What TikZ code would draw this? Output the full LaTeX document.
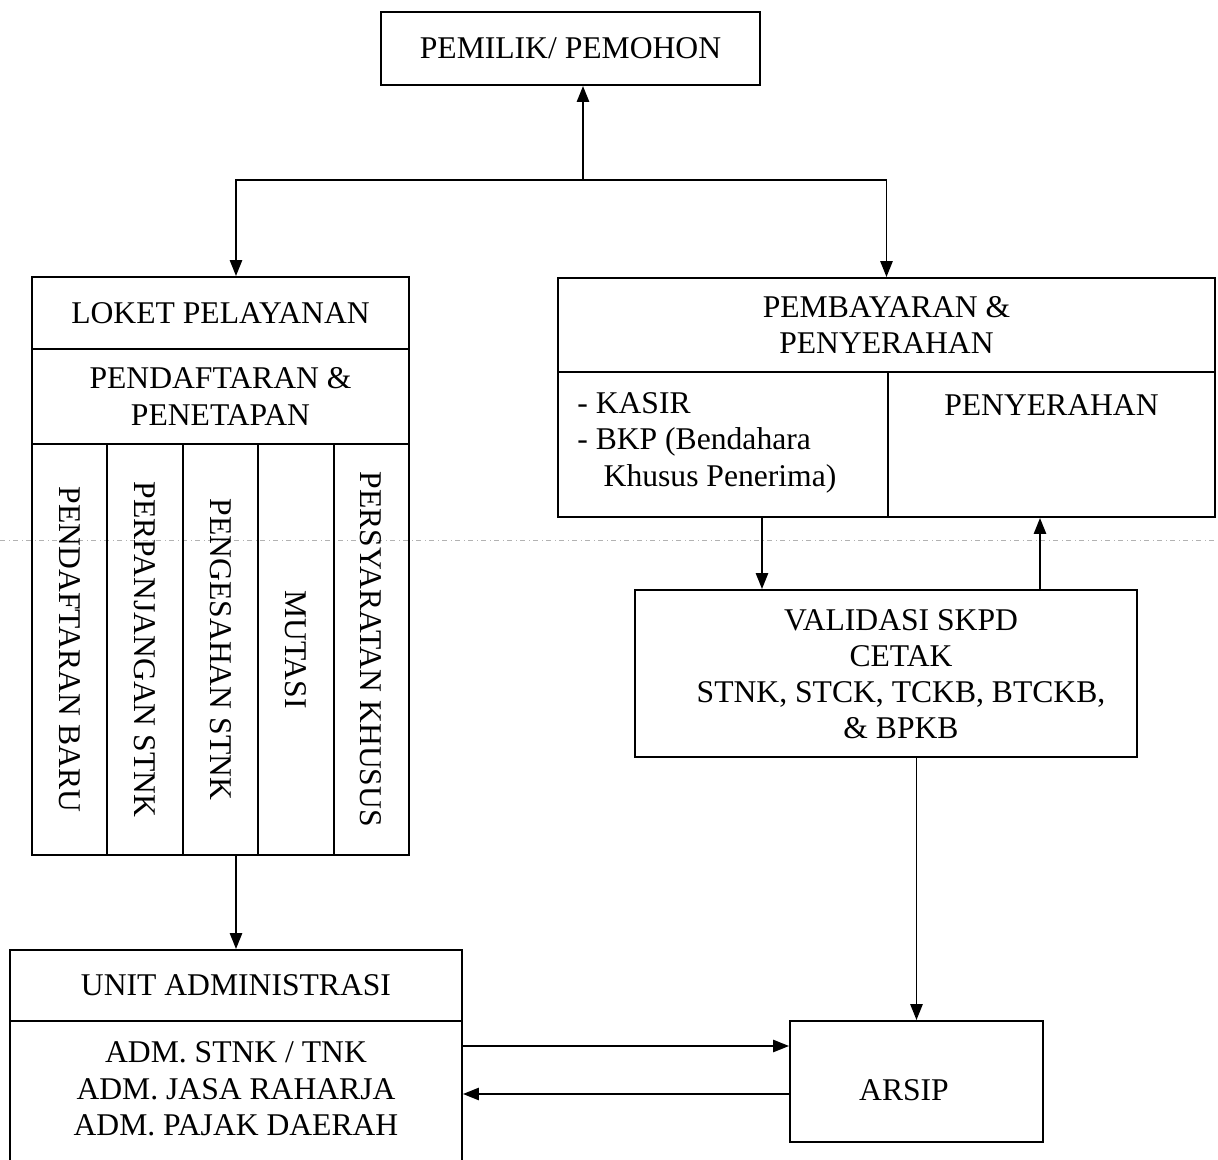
\documentclass[tikz,border=0pt]{standalone}
\usepackage{fontspec}
\setmainfont{Liberation Serif}
\usetikzlibrary{shapes,positioning,arrows.meta}

\begin{document}
\begin{tikzpicture}[x=0.02cm, y=-0.02cm,
    box/.style={draw, line width=1.2pt, inner sep=0pt, align=center, font=\fontsize{18}{20.6}\selectfont},
    txt/.style={inner sep=0pt, align=left, font=\fontsize{18}{20.8}\selectfont},
    link/.style={line width=0.9pt, -{Triangle[length=9pt, width=7pt]}}]

    \useasboundingbox (0,0) rectangle (1218,1160);

    % Scan line across the page
    \draw[gray!60, line width=0.4pt, dash dot] (0,540) -- (1218,540);

    % Owner box
    \node[box, minimum width=7.58cm, minimum height=1.46cm] (pemohon) at (570.5,48.5) {PEMILIK/ PEMOHON};

    % Service counter column
    \node[box, minimum width=7.54cm, minimum height=1.44cm] (loket) at (220.5,313) {LOKET PELAYANAN};
    \node[box, minimum width=7.54cm, minimum height=1.9cm] (daftar) at (220.5,396.5) {PENDAFTARAN \&\\PENETAPAN};
    \foreach \nm/\txt [count=\i] in {baru/PENDAFTARAN BARU, panjang/PERPANJANGAN STNK, sah/PENGESAHAN STNK, mutasi/MUTASI, syarat/PERSYARATAN KHUSUS}
      \node[box, rotate=-90, minimum width=8.22cm, minimum height=1.508cm] (\nm) at ({32+75.4*(\i-0.5)},649.5) {\txt};

    % Payment column
    \node[box, minimum width=13.14cm, minimum height=1.88cm] (bayar) at (886.5,325) {PEMBAYARAN \&\\PENYERAHAN};
    \node[box, minimum width=6.6cm, minimum height=2.9cm] (kasir) at (723,444.5) {};
    \node[box, minimum width=6.54cm, minimum height=2.9cm] (serah) at (1051.5,444.5) {};
    \node[txt, anchor=north west] (kasirtxt) at ([xshift=0.4cm, yshift=-0.42cm]kasir.north west) {- KASIR\\- BKP (Bendahara\\\hspace{15pt}Khusus Penerima)};
    \node[txt, anchor=north] (serahtxt) at ([yshift=-0.46cm]serah.north) {PENYERAHAN};

    % Validation box
    \node[box, minimum width=10.04cm, minimum height=3.34cm] (valid) at (886,673.5) {};
    \node[box, draw=none] (validtxt) at (901,674) {VALIDASI SKPD\\CETAK\\STNK, STCK, TCKB, BTCKB,\\\& BPKB};

    % Administration unit
    \node[box, minimum width=9.04cm, minimum height=1.42cm] (unit) at (236,985.5) {UNIT ADMINISTRASI};
    \node[box, minimum width=9.04cm, minimum height=3cm] (adm) at (236,1096) {};
    \node[txt, align=center] (admtxt) at (236,1089) {ADM. STNK / TNK\\ADM. JASA RAHARJA\\ADM. PAJAK DAERAH};

    % Archive
    \node[box, minimum width=5.06cm, minimum height=2.42cm] (arsip) at (916.5,1081.5) {};
    \node[txt] (arsiptxt) at (904,1090) {ARSIP};

    % Connectors
    \coordinate (fork) at (583,180);
    \draw[link] (fork) -- (fork |- pemohon.south);
    \draw[link] (fork) -| (unit.north |- loket.north);
    \draw[link] (fork) -| (bayar.north);

    \draw[link] (unit.north |- sah.east) -- (unit.north);

    \coordinate (down) at (762,0);
    \coordinate (up) at (1040,0);
    \draw[link] (down |- kasir.south) -- (down |- valid.north);
    \draw[link] (up |- valid.north) -- (up |- serah.south);
    \draw[link] (arsip.north |- valid.south) -- (arsip.north);

    \coordinate (there) at (0,1046);
    \coordinate (back) at (0,1094);
    \draw[link] (adm.east |- there) -- (arsip.west |- there);
    \draw[link] (arsip.west |- back) -- (adm.east |- back);

\end{tikzpicture}
\end{document}
